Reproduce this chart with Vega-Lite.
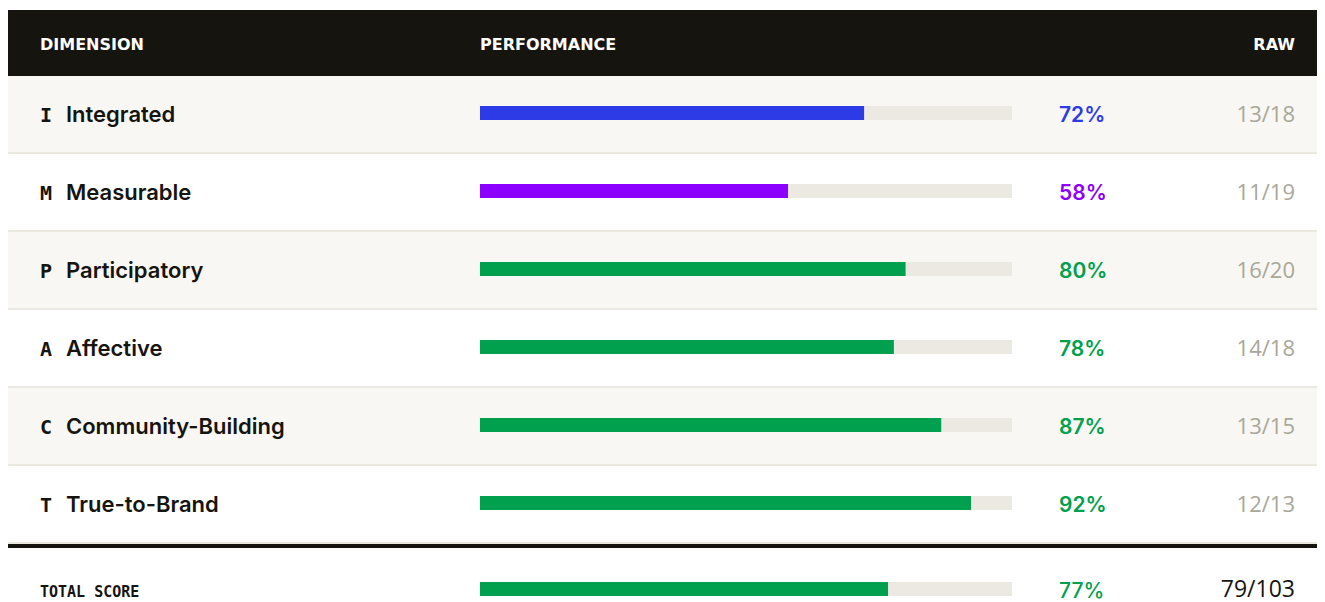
{
  "$schema": "https://vega.github.io/schema/vega-lite/v6.json",
  "padding": {"left": 6, "top": 10, "right": 6, "bottom": 0},
  "background": "#ffffff",
  "spacing": 0,
  "config": {"view": {"stroke": null}, "concat": {"spacing": 0}},
  "datasets": {
    "header": [
      {"h": "DIMENSION"},
      {"h": "PERFORMANCE"},
      {"h": "RAW"}
    ],
    "rows": [
      {"letter": "I", "dimension": "Integrated", "pct": 0.722, "raw": "13/18"},
      {"letter": "M", "dimension": "Measurable", "pct": 0.579, "raw": "11/19"},
      {"letter": "P", "dimension": "Participatory", "pct": 0.8, "raw": "16/20"},
      {"letter": "A", "dimension": "Affective", "pct": 0.778, "raw": "14/18"},
      {"letter": "C", "dimension": "Community-Building", "pct": 0.867, "raw": "13/15"},
      {"letter": "T", "dimension": "True-to-Brand", "pct": 0.923, "raw": "12/13"}
    ],
    "total": [
      {"label": "TOTAL SCORE", "pct": 0.767, "raw": "79/103"}
    ]
  },
  "vconcat": [
    {
      "width": 1309,
      "height": 66,
      "view": {"fill": "#16140f", "stroke": null},
      "data": {"name": "header"},
      "layer": [
        {
          "transform": [{"filter": "datum.h === 'DIMENSION'"}],
          "mark": {"type": "text", "align": "left", "baseline": "alphabetic", "font": "DejaVu Sans", "fontWeight": "bold", "fontSize": 16, "color": "#ffffff", "dy": 7},
          "encoding": {
            "x": {"datum": -0.827068, "type": "quantitative", "scale": {"domain": [-0.887218, 1.573308], "nice": false, "zero": false}, "axis": null},
            "text": {"field": "h"}
          }
        },
        {
          "transform": [{"filter": "datum.h === 'PERFORMANCE'"}],
          "mark": {"type": "text", "align": "left", "baseline": "alphabetic", "font": "DejaVu Sans", "fontWeight": "bold", "fontSize": 16, "color": "#ffffff", "dy": 7},
          "encoding": {
            "x": {"datum": 0, "type": "quantitative"},
            "text": {"field": "h"}
          }
        },
        {
          "transform": [{"filter": "datum.h === 'RAW'"}],
          "mark": {"type": "text", "align": "right", "baseline": "alphabetic", "font": "DejaVu Sans", "fontWeight": "bold", "fontSize": 16, "color": "#ffffff", "dy": 7},
          "encoding": {
            "x": {"datum": 1.531955, "type": "quantitative"},
            "text": {"field": "h"}
          }
        }
      ]
    },
    {
      "width": 1309,
      "height": 468,
      "data": {"name": "rows"},
      "encoding": {
        "y": {"field": "dimension", "type": "nominal", "sort": null, "scale": {"type": "band", "paddingInner": 0, "paddingOuter": 0}, "axis": null}
      },
      "layer": [
        {
          "mark": {"type": "rect"},
          "encoding": {
            "x": {"datum": -0.887218, "type": "quantitative", "scale": {"domain": [-0.887218, 1.573308], "nice": false, "zero": false}, "axis": null},
            "x2": {"datum": 1.573308},
            "fill": {"field": "dimension", "type": "nominal", "scale": {"domain": ["Integrated", "Measurable", "Participatory", "Affective", "Community-Building", "True-to-Brand"], "range": ["#f9f7f3", "#ffffff", "#f9f7f3", "#ffffff", "#f9f7f3", "#ffffff"]}, "legend": null}
          }
        },
        {
          "mark": {"type": "rule", "color": "#ebe8e2", "strokeWidth": 2, "yOffset": -1},
          "encoding": {
            "y": {"field": "dimension", "type": "nominal", "sort": null, "bandPosition": 1}
          }
        },
        {
          "mark": {"type": "bar", "color": "#ece9e2", "height": 14, "yOffset": -2},
          "encoding": {
            "x": {"datum": 0, "type": "quantitative"},
            "x2": {"datum": 1}
          }
        },
        {
          "mark": {"type": "bar", "height": 14, "yOffset": -2},
          "encoding": {
            "x": {"field": "pct", "type": "quantitative"},
            "x2": {"datum": 0},
            "color": {"field": "pct", "type": "quantitative", "scale": {"type": "threshold", "domain": [0.6, 0.75], "range": ["#8c00ff", "#2c3be6", "#00a04e"]}, "legend": null}
          }
        },
        {
          "mark": {"type": "text", "align": "left", "baseline": "alphabetic", "font": "DejaVu Sans Mono", "fontWeight": "bold", "fontSize": 20, "color": "#16140f", "yOffset": 7},
          "encoding": {
            "x": {"datum": -0.827068, "type": "quantitative"},
            "text": {"field": "letter"}
          }
        },
        {
          "mark": {"type": "text", "align": "left", "baseline": "alphabetic", "font": "Inter", "fontWeight": 600, "fontSize": 22, "color": "#16140f", "yOffset": 7},
          "encoding": {
            "x": {"datum": -0.778195, "type": "quantitative"},
            "text": {"field": "dimension"}
          }
        },
        {
          "mark": {"type": "text", "align": "left", "baseline": "alphabetic", "font": "Inter", "fontWeight": 600, "fontSize": 21, "yOffset": 7},
          "encoding": {
            "x": {"datum": 1.088346, "type": "quantitative"},
            "text": {"field": "pct", "type": "quantitative", "format": ".0%"},
            "color": {"field": "pct", "type": "quantitative", "scale": {"type": "threshold", "domain": [0.6, 0.75], "range": ["#8c00ff", "#2c3be6", "#00a04e"]}, "legend": null}
          }
        },
        {
          "mark": {"type": "text", "align": "right", "baseline": "alphabetic", "font": "Open Sans", "fontWeight": 400, "fontSize": 22, "color": "#a8a79a", "yOffset": 7},
          "encoding": {
            "x": {"datum": 1.531955, "type": "quantitative"},
            "text": {"field": "raw"}
          }
        }
      ]
    },
    {
      "width": 1309,
      "height": 58,
      "data": {"name": "total"},
      "encoding": {
        "y": {"field": "label", "type": "nominal", "scale": {"type": "band", "paddingInner": 0, "paddingOuter": 0}, "axis": null}
      },
      "layer": [
        {
          "mark": {"type": "rule", "color": "#16140f", "strokeWidth": 4},
          "encoding": {
            "y": {"field": "label", "type": "nominal", "bandPosition": 0}
          }
        },
        {
          "mark": {"type": "bar", "color": "#ece9e2", "height": 14, "yOffset": 14},
          "encoding": {
            "x": {"datum": 0, "type": "quantitative", "scale": {"domain": [-0.887218, 1.573308], "nice": false, "zero": false}, "axis": null},
            "x2": {"datum": 1}
          }
        },
        {
          "mark": {"type": "bar", "height": 14, "yOffset": 14},
          "encoding": {
            "x": {"field": "pct", "type": "quantitative"},
            "x2": {"datum": 0},
            "color": {"field": "pct", "type": "quantitative", "scale": {"type": "threshold", "domain": [0.6, 0.75], "range": ["#8c00ff", "#2c3be6", "#00a04e"]}, "legend": null}
          }
        },
        {
          "mark": {"type": "text", "align": "left", "baseline": "alphabetic", "font": "DejaVu Sans Mono", "fontWeight": "bold", "fontSize": 15, "color": "#16140f", "yOffset": 22},
          "encoding": {
            "x": {"datum": -0.827068, "type": "quantitative"},
            "text": {"field": "label"}
          }
        },
        {
          "mark": {"type": "text", "align": "left", "baseline": "alphabetic", "font": "Inter", "fontWeight": 500, "fontSize": 21, "yOffset": 23},
          "encoding": {
            "x": {"datum": 1.088346, "type": "quantitative"},
            "text": {"field": "pct", "type": "quantitative", "format": ".0%"},
            "color": {"field": "pct", "type": "quantitative", "scale": {"type": "threshold", "domain": [0.6, 0.75], "range": ["#8c00ff", "#2c3be6", "#00a04e"]}, "legend": null}
          }
        },
        {
          "mark": {"type": "text", "align": "right", "baseline": "alphabetic", "font": "Open Sans", "fontWeight": 500, "fontSize": 23, "color": "#16140f", "yOffset": 22},
          "encoding": {
            "x": {"datum": 1.531955, "type": "quantitative"},
            "text": {"field": "raw"}
          }
        }
      ]
    }
  ]
}
